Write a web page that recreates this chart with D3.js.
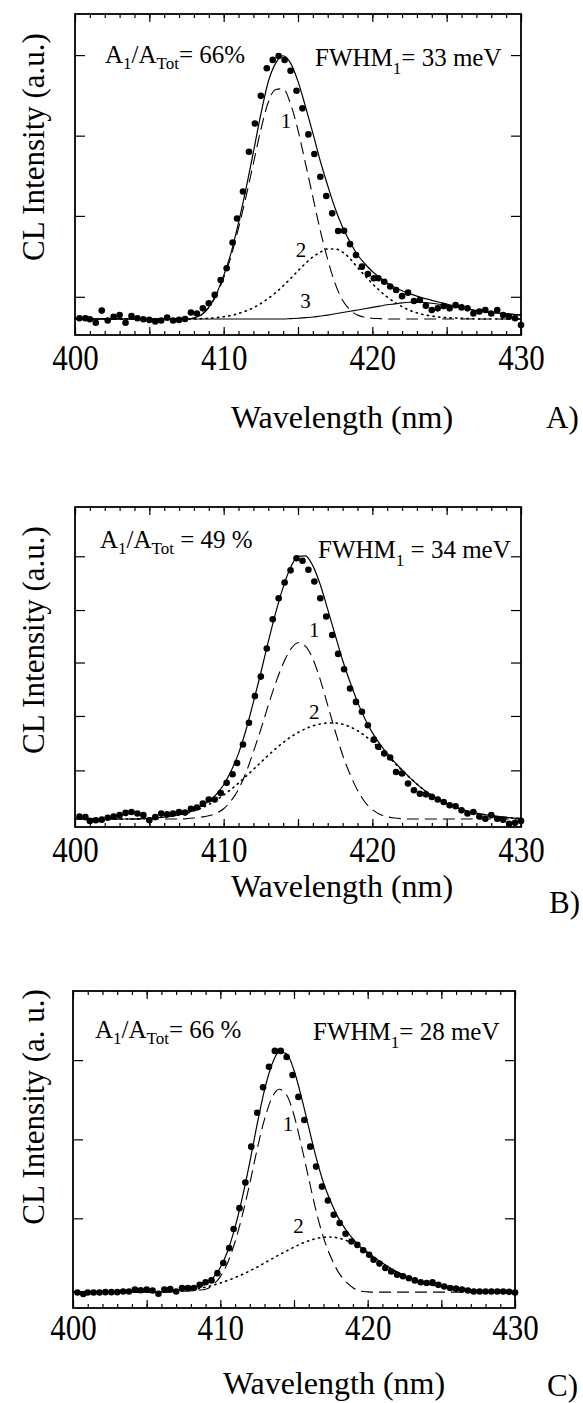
<!DOCTYPE html>
<html><head><meta charset="utf-8">
<script src="https://cdn.jsdelivr.net/npm/d3@7"></script>
<style>
html,body{margin:0;padding:0;background:#fff;}
svg{display:block;}
text{font-family:"Liberation Serif","Times New Roman",Times,serif;fill:#000;}
</style></head><body>
<svg id="chart" width="583" height="1403"></svg>
<script>
// ---------- DATA ----------
const wavelengths = [400.3,400.7,401.0,401.4,401.8,402.2,402.6,403.0,403.4,403.8,404.2,404.6,405.0,405.4,405.8,406.2,406.6,407.0,407.4,407.8,
408.2,408.6,409.0,409.4,409.8,410.2,410.6,410.9,411.3,411.7,412.1,412.5,412.9,413.3,413.7,414.1,414.5,414.9,415.3,415.7,
416.1,416.5,416.9,417.3,417.7,418.1,418.5,418.9,419.3,419.7,420.1,420.4,420.8,421.2,421.6,422.0,422.4,422.8,423.2,423.6,
424.0,424.4,424.8,425.2,425.6,426.0,426.4,426.8,427.2,427.6,428.0,428.4,428.8,429.2,429.6,430.0];

const intensityA = [5.2,5.2,4.9,3.8,7.6,4.5,5.7,6.2,3.8,5.9,
5.2,4.9,4.7,4.2,4.5,5.4,4.5,4.7,5.0,7.0,
6.7,8.3,9.9,12.5,17.1,20.8,28.8,36.3,44.7,57.1,
65.9,74.5,83.1,85.7,86.9,85.7,82.3,76.1,70.6,62.5,
56.4,49.3,43.3,37.9,32.4,32.5,28.3,24.9,21.3,19.0,
17.7,17.7,16.6,15.1,14.0,12.1,13.2,10.6,10.9,9.1,
7.8,8.3,9.0,8.3,9.3,8.6,8.3,6.7,7.3,7.8,
6.7,7.8,6.2,5.7,5.2,3.1];

const intensityB = [3.3,3.1,1.9,2.1,2.3,2.9,3.3,3.7,4.4,4.7,
4.2,3.7,2.1,3.1,4.2,4.0,4.2,4.7,4.5,5.7,
6.1,7.3,8.6,8.6,10.6,13.8,16.5,20.0,25.8,32.6,
40.9,47.0,55.8,64.9,71.5,76.4,80.2,84.0,83.2,80.4,
76.7,71.5,65.8,60.0,54.1,49.3,43.3,39.1,36.0,31.8,
27.3,25.1,23.0,21.7,17.2,16.7,13.6,11.5,10.4,10.2,
9.4,8.6,7.8,6.8,6.5,5.2,4.2,4.7,3.3,2.6,
3.7,2.6,2.3,1.0,1.3,1.9];

const intensityC = [4.9,4.4,4.9,4.9,4.9,5.0,5.0,5.0,5.2,5.2,
5.8,5.6,5.8,5.5,4.5,5.8,6.0,5.2,6.3,6.3,
6.3,7.3,8.1,8.7,11.0,14.2,18.9,24.9,31.5,39.6,
50.9,61.6,69.6,76.1,81.1,81.1,79.2,73.5,66.6,59.3,
50.9,44.6,38.3,33.9,29.4,26.8,23.4,21.0,19.9,18.2,
16.8,15.2,14.0,12.6,11.5,10.5,10.0,9.4,8.7,8.1,
7.9,8.1,7.3,6.8,6.3,6.1,5.8,5.5,5.2,5.2,
5.2,5.2,5.2,5.2,5.1,4.9];

const fitWavelengths = [400.0,400.5,401.0,401.5,402.0,402.5,403.0,403.5,404.0,404.5,405.0,405.5,406.0,406.5,407.0,407.5,
408.0,408.5,409.0,409.5,410.0,410.5,411.0,411.5,412.0,412.5,413.0,413.5,414.0,414.5,415.0,415.5,416.0,416.5,417.0,417.5,
418.0,418.5,419.0,419.5,420.0,420.5,421.0,421.5,422.0,422.5,423.0,423.5,424.0,424.5,425.0,425.5,426.0,426.5,427.0,427.5,
428.0,428.5,429.0,429.5,430.0];

const fitTotalA = [5.0,5.0,5.0,5.0,5.0,5.0,5.0,5.0,5.0,5.0,5.0,5.0,5.0,5.0,5.0,5.0,
5.3,6.3,8.7,12.7,18.5,25.6,35.0,45.5,57.0,68.8,78.9,84.7,87.0,84.7,79.0,71.2,62.9,54.2,46.5,39.4,
33.6,29.0,25.0,22.2,19.8,17.9,16.2,14.9,13.8,12.9,12.1,11.4,10.8,10.2,9.6,9.1,8.6,8.1,7.6,7.3,
7.0,6.8,6.6,6.4,6.2];
const fitPeak1A = [5.0,5.0,5.0,5.0,5.0,5.0,5.0,5.0,5.0,5.0,5.0,5.0,5.0,5.0,5.0,5.0,
5.3,6.2,8.5,12.3,17.8,24.5,33.3,43.0,53.5,64.0,72.5,76.5,76.7,72.0,63.8,53.5,43.0,32.5,23.5,16.0,
10.8,7.8,6.2,5.5,5.2,5.1,5.0,5.0,5.0,5.0,5.0,5.0,5.0,5.0,5.0,5.0,5.0,5.0,5.0,5.0,
5.0,5.0,5.0,5.0,5.0];
const fitPeak2A = [5.0,5.0,5.0,5.0,5.0,5.0,5.0,5.0,5.0,5.0,5.0,5.0,5.0,5.0,5.0,5.0,
5.0,5.1,5.2,5.4,5.7,6.1,6.7,7.5,8.5,9.8,11.4,13.2,15.3,17.6,20.0,22.3,24.3,25.8,26.8,26.8,
25.8,23.8,21.0,18.5,16.0,13.8,11.8,10.2,8.8,7.7,6.9,6.3,5.9,5.6,5.4,5.3,5.2,5.1,5.0,5.0,
5.0,5.0,5.0,5.0,5.0];
const fitPeak3A = [5.0,5.0,5.0,5.0,5.0,5.0,5.0,5.0,5.0,5.0,5.0,5.0,5.0,5.0,5.0,5.0,
5.0,5.0,5.0,5.0,5.0,5.0,5.0,5.0,5.0,5.0,5.0,5.0,5.0,5.1,5.2,5.4,5.6,5.9,6.2,6.6,
7.0,7.4,7.8,8.2,8.6,9.0,9.4,9.7,10.0,10.2,10.2,10.1,9.9,9.6,9.2,8.8,8.4,8.0,7.6,7.3,
7.0,6.8,6.6,6.4,6.2];

const fitTotalB = [2.5,2.5,2.5,2.5,2.5,2.5,2.5,2.5,2.5,2.6,2.7,2.9,3.1,3.4,3.8,4.4,
5.3,6.5,8.0,10.2,13.2,17.5,23.0,30.3,39.0,48.2,57.9,67.0,74.9,81.1,84.6,84.7,81.6,75.7,68.0,60.0,
52.1,45.3,39.1,33.8,29.5,26.0,23.0,20.3,17.8,15.5,13.4,11.5,9.9,8.5,7.3,6.3,5.5,4.8,4.3,3.9,
3.5,3.2,3.0,2.8,2.7];
const fitPeak1B = [2.5,2.5,2.5,2.5,2.5,2.5,2.5,2.5,2.5,2.5,2.5,2.5,2.5,2.5,2.5,2.6,
2.8,3.1,3.5,4.3,5.7,8.2,11.8,17.0,23.5,30.5,38.0,45.0,51.0,55.5,57.6,56.5,52.5,46.0,38.0,30.0,
22.5,16.5,11.5,7.8,5.4,4.0,3.2,2.8,2.6,2.5,2.5,2.5,2.5,2.5,2.5,2.5,2.5,2.5,2.5,2.5,
2.5,2.5,2.5,2.5,2.5];
const fitPeak2B = [2.5,2.5,2.5,2.5,2.5,2.5,2.5,2.5,2.5,2.6,2.7,2.9,3.1,3.4,3.8,4.3,
5.0,5.9,7.0,8.4,10.0,11.8,13.7,15.8,18.0,20.2,22.4,24.5,26.4,28.1,29.5,30.7,31.6,32.2,32.5,32.5,
32.1,31.3,30.1,28.5,26.6,24.5,22.3,20.0,17.7,15.5,13.4,11.5,9.9,8.5,7.3,6.3,5.5,4.8,4.3,3.9,
3.5,3.2,3.0,2.8,2.7];

const fitTotalC = [5.0,5.0,5.0,5.0,5.0,5.0,5.0,5.0,5.0,5.0,5.0,5.0,5.0,5.1,5.4,5.7,
6.1,6.7,7.5,9.5,12.8,18.0,25.5,35.0,46.0,58.0,68.8,76.8,80.8,80.2,75.0,66.6,57.0,47.5,39.5,33.5,
28.5,24.8,21.8,19.3,17.5,15.8,14.2,12.7,11.4,10.2,9.2,8.4,7.7,7.1,6.7,6.3,6.0,5.8,5.6,5.5,
5.4,5.3,5.2,5.2,5.1];
const fitPeak1C = [5.0,5.0,5.0,5.0,5.0,5.0,5.0,5.0,5.0,5.0,5.0,5.0,5.0,5.0,5.2,5.3,
5.4,5.6,5.9,7.3,9.9,14.3,20.9,29.4,39.3,50.1,59.6,66.3,69.0,67.2,60.8,51.3,40.8,30.6,22.2,16.1,
11.4,8.4,6.4,5.3,5.1,5.0,5.0,5.0,5.0,5.0,5.0,5.0,5.0,5.0,5.0,5.0,5.0,5.0,5.0,5.0,
5.0,5.0,5.0,5.0,5.0];
const fitPeak2C = [5.0,5.0,5.0,5.0,5.0,5.0,5.0,5.0,5.0,5.0,5.0,5.0,5.0,5.1,5.2,5.4,
5.7,6.1,6.6,7.2,7.9,8.7,9.6,10.6,11.7,12.9,14.2,15.5,16.8,18.0,19.2,20.3,21.2,21.9,22.3,22.4,
22.1,21.4,20.4,19.0,17.4,15.7,14.1,12.6,11.3,10.1,9.1,8.3,7.6,7.0,6.6,6.2,5.9,5.7,5.5,5.4,
5.3,5.2,5.1,5.1,5.0];

const xTickLabels = [400, 410, 420, 430];
const yTicksA = [11.9, 37.1, 62.1, 87.2];
const yTicksB = [17.7, 34.7, 51.4, 67.8, 84.6];
const yTicksC = [28.3, 53.2, 78.2];

const ratioTexts = [["A","1","/A","Tot","= 66%"],["A","1","/A","Tot"," = 49 %"],["A","1","/A","Tot","= 66 %"]];
const fwhmTexts = [["FWHM","1","= 33 meV"],["FWHM","1"," = 34 meV"],["FWHM","1","= 28 meV"]];
const yTitles = ["CL Intensity (a.u.)","CL Intensity (a.u.)","CL Intensity (a. u.)"];
const xTitle = "Wavelength (nm)";
const panelLetters = ["A)","B)","C)"];
// component label anchors (wavelength, intensity)
const peakLabelsA = [["1",414.2,64.4],["2",415.2,24.4],["3",415.5,8.3]];
const peakLabelsB = [["1",416.1,59.5],["2",416.1,33.9]];
const peakLabelsC = [["1",414.6,55.9],["2",415.3,23.6]];

// ---------- LAYOUT (positions only) ----------
const panels = [
 {data:intensityA, total:fitTotalA, comps:[[fitPeak1A,"dash"],[fitPeak2A,"dot"],[fitPeak3A,"solid"]], labels:peakLabelsA, yTicks:yTicksA,
  left:75, right:521, top:14, bottom:335, lblBase:35, titleY:428, titleX:342, letterX:546, letterY:428, yTitleX:44, yTitleY:147,
  ratioX:105, ratioY:63, fwhmX:315, fwhmY:66},
 {data:intensityB, total:fitTotalB, comps:[[fitPeak1B,"dash"],[fitPeak2B,"dot"]], labels:peakLabelsB, yTicks:yTicksB,
  left:75, right:521, top:507, bottom:827, lblBase:35, titleY:897, titleX:342, letterX:549, letterY:913, yTitleX:44, yTitleY:640,
  ratioX:100, ratioY:548, fwhmX:318, fwhmY:558},
 {data:intensityC, total:fitTotalC, comps:[[fitPeak1C,"dash"],[fitPeak2C,"dot"]], labels:peakLabelsC, yTicks:yTicksC,
  left:73, right:515, top:991, bottom:1308, lblBase:32, titleY:1394, titleX:334, letterX:547, letterY:1396, yTitleX:44, yTitleY:1107,
  ratioX:95, ratioY:1038, fwhmX:313, fwhmY:1040}
];

const svg = d3.select("#chart");
const LBL_SIZE = 31, LBL_STRETCH = 1.15;

function subText(g, x, y, parts, size, subSize, subDy) {
  const t = g.append("text").attr("x", x).attr("y", y).attr("font-size", size);
  parts.forEach((s, i) => {
    const isSub = (i % 2 === 1);
    t.append("tspan").text(s)
      .attr("font-size", isSub ? subSize : size)
      .attr("dy", i === 0 ? 0 : (isSub ? subDy : -subDy));
  });
  return t;
}

panels.forEach((p, pi) => {
  const x = d3.scaleLinear().domain([400, 430]).range([p.left, p.right]);
  const y = d3.scaleLinear().domain([0, 100]).range([p.bottom, p.top]);
  const g = svg.append("g");

  const strip = s => s.select(".domain").remove();
  // minor x ticks (every 1 nm), inward, top & bottom
  g.append("g").attr("transform", `translate(0,${p.bottom})`)
    .call(d3.axisBottom(x).ticks(30).tickSize(-4).tickFormat("")).call(strip);
  g.append("g").attr("transform", `translate(0,${p.top})`)
    .call(d3.axisTop(x).ticks(30).tickSize(-4).tickFormat("")).call(strip);
  // major x ticks (every 5 nm)
  g.append("g").attr("transform", `translate(0,${p.bottom})`)
    .call(d3.axisBottom(x).ticks(6).tickSize(-8).tickFormat("")).call(strip);
  g.append("g").attr("transform", `translate(0,${p.top})`)
    .call(d3.axisTop(x).ticks(6).tickSize(-8).tickFormat("")).call(strip);
  // x tick labels (slightly tall, as in the scanned original)
  g.append("g").attr("transform", `translate(0,${p.bottom})`)
    .call(d3.axisBottom(x).tickValues(xTickLabels).tickSize(0).tickPadding(0).tickFormat(d3.format("d")))
    .call(strip)
    .call(s => s.selectAll("text")
      .attr("font-size", LBL_SIZE)
      .attr("y", 0).attr("dy", 0)
      .attr("transform", `translate(0,${p.lblBase}) scale(1,${LBL_STRETCH})`)
      .attr("fill", "#000"));
  // y ticks left & right, inward
  g.append("g").attr("transform", `translate(${p.left},0)`)
    .call(d3.axisLeft(y).tickValues(p.yTicks).tickSize(-10).tickFormat("")).call(strip);
  g.append("g").attr("transform", `translate(${p.right},0)`)
    .call(d3.axisRight(y).tickValues(p.yTicks).tickSize(-10).tickFormat("")).call(strip);
  g.selectAll(".tick line").attr("stroke", "#000").attr("stroke-width", 1.2);

  // frame
  g.append("rect").attr("x", p.left).attr("y", p.top)
    .attr("width", p.right - p.left).attr("height", p.bottom - p.top)
    .attr("fill", "none").attr("stroke", "#000").attr("stroke-width", 1.8);

  // fit curves
  const line = d3.line().x((d, i) => x(fitWavelengths[i])).y(d => y(d)).curve(d3.curveMonotoneX);
  p.comps.forEach(([vals, style]) => {
    const path = g.append("path").attr("d", line(vals)).attr("fill", "none").attr("stroke", "#000");
    if (style === "dash") path.attr("stroke-width", 1.1).attr("stroke-dasharray", "12,6");
    else if (style === "dot") path.attr("stroke-width", 1.6).attr("stroke-dasharray", "1.2,4.5").attr("stroke-linecap", "round");
    else path.attr("stroke-width", 1.1);
  });
  g.append("path").attr("d", line(p.total)).attr("fill", "none").attr("stroke", "#000").attr("stroke-width", 1.2);

  // data points
  g.append("g").selectAll("circle").data(p.data).join("circle")
    .attr("cx", (d, i) => x(wavelengths[i])).attr("cy", d => y(d)).attr("r", 3.3).attr("fill", "#000");

  // component labels
  p.labels.forEach(([t, wx, v]) => {
    g.append("text").attr("x", x(wx)).attr("y", y(v)).attr("text-anchor", "middle").attr("font-size", 21).text(t);
  });

  // annotations
  subText(g, p.ratioX, p.ratioY, ratioTexts[pi], 25, 17, 6);
  subText(g, p.fwhmX, p.fwhmY, fwhmTexts[pi], 25, 17, 8);

  // titles
  g.append("text").attr("x", p.titleX).attr("y", p.titleY).attr("text-anchor", "middle").attr("font-size", 32).text(xTitle);
  g.append("text").attr("x", p.letterX).attr("y", p.letterY).attr("font-size", 31).text(panelLetters[pi]);
  g.append("text").attr("transform", `translate(${p.yTitleX},${p.yTitleY}) rotate(-90)`)
    .attr("text-anchor", "middle").attr("font-size", 31).text(yTitles[pi]);
});
</script>
</body></html>
